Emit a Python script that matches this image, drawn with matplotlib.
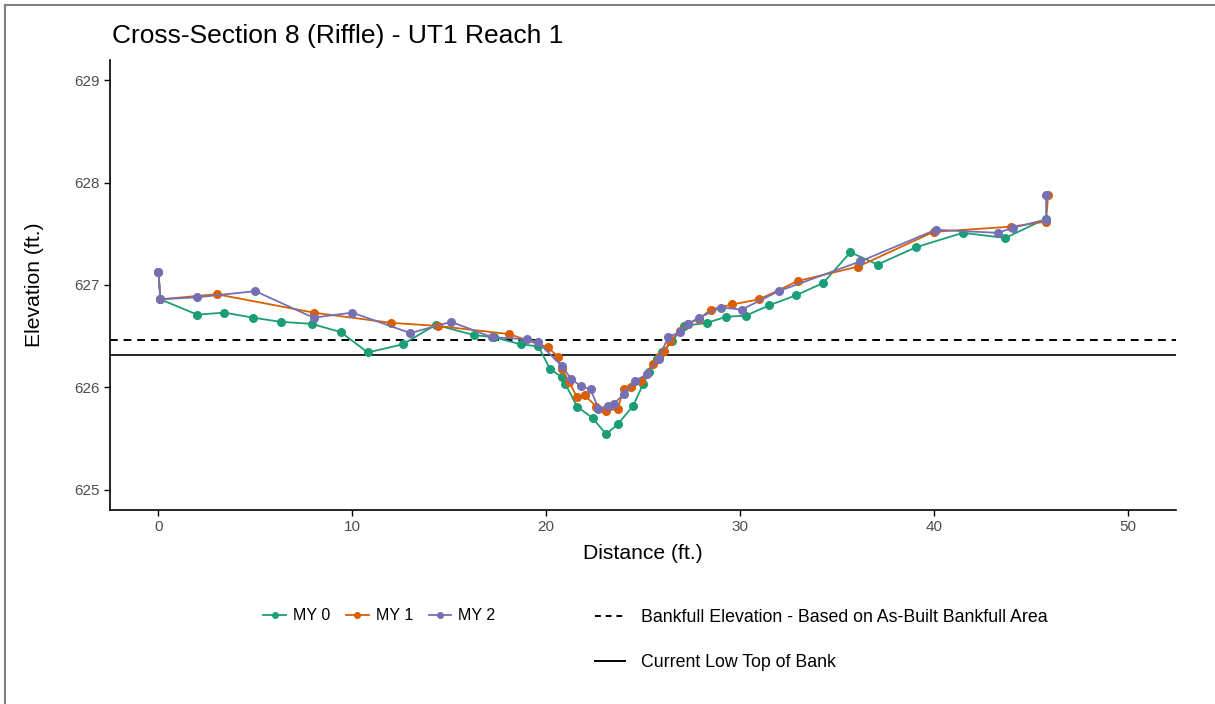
import matplotlib.pyplot as plt
from matplotlib.lines import Line2D

plt.rcParams['font.family'] = ['Liberation Sans', 'DejaVu Sans']

# survey data (distance ft, elevation ft)
my0_x = [0.0, 0.1, 2.0, 3.4, 4.9, 6.3, 7.9, 9.4, 10.8, 12.6, 14.3, 16.3, 17.3, 18.7, 19.6,
         20.2, 20.8, 21.0, 21.6, 22.4, 23.1, 23.7, 24.5, 25.0, 25.3, 25.7, 26.0, 26.5, 27.1,
         28.3, 29.3, 30.3, 31.5, 32.9, 34.3, 35.7, 37.1, 39.1, 41.5, 43.7, 45.8]
my0_y = [627.13, 626.86, 626.71, 626.73, 626.68, 626.64, 626.62, 626.54, 626.34, 626.42, 626.61,
         626.51, 626.49, 626.42, 626.40,
         626.18, 626.10, 626.03, 625.81, 625.70, 625.54, 625.64, 625.82, 626.03, 626.15, 626.28,
         626.34, 626.45, 626.60,
         626.63, 626.69, 626.70, 626.80, 626.90, 627.02, 627.32, 627.20, 627.37, 627.51, 627.46,
         627.65]

my1_x = [0.0, 0.1, 3.0, 8.0, 12.0, 14.4, 18.1, 20.1, 20.6, 20.8, 21.2, 21.6, 22.0, 22.6, 23.1,
         23.7, 24.0, 24.4, 24.9, 25.5, 25.8, 26.1, 26.4, 26.9, 27.3, 27.9,
         28.5, 29.6, 31.0, 33.0, 36.1, 40.0, 44.0, 45.8, 45.9]
my1_y = [627.13, 626.86, 626.91, 626.73, 626.63, 626.60, 626.52, 626.39, 626.30, 626.18, 626.05,
         625.90, 625.92, 625.81, 625.77,
         625.79, 625.98, 626.00, 626.06, 626.23, 626.30, 626.35, 626.45, 626.55, 626.62, 626.67,
         626.76, 626.81, 626.86, 627.04, 627.18, 627.52, 627.57, 627.62, 627.88]

my2_x = [0.0, 0.1, 2.0, 5.0, 8.0, 10.0, 13.0, 15.1, 17.2, 19.0, 19.6, 20.8, 21.3, 21.8, 22.3,
         22.7, 23.2, 23.5, 24.0, 24.6, 25.2, 25.8, 26.3, 26.9, 27.3, 27.9,
         29.0, 30.1, 32.0, 36.2, 40.1, 43.3, 44.1, 45.8, 45.8]
my2_y = [627.13, 626.86, 626.88, 626.94, 626.68, 626.73, 626.53, 626.64, 626.49, 626.47, 626.44,
         626.21, 626.08, 626.01, 625.98,
         625.79, 625.82, 625.84, 625.93, 626.06, 626.13, 626.28, 626.49, 626.54, 626.62, 626.68,
         626.78, 626.76, 626.94, 627.23, 627.54, 627.51, 627.56, 627.64, 627.88]

bankfull = 626.46
low_top_of_bank = 626.32

series = [("MY 0", my0_x, my0_y, "#1B9E77"),
          ("MY 1", my1_x, my1_y, "#D95F02"),
          ("MY 2", my2_x, my2_y, "#7570B3")]

fig = plt.figure(figsize=(12.15, 7.04), dpi=100)
ax = fig.add_axes([110 / 1215, 1 - 510 / 704, 1066 / 1215, 450 / 704])

for name, xs, ys, col in series:
    ax.plot(xs, ys, color=col, lw=1.3, marker='o', ms=5.5, mec=col, label=name, zorder=3)

ax.axhline(bankfull, color='black', lw=1.4, ls=(0, (4, 3)), zorder=2)
ax.axhline(low_top_of_bank, color='black', lw=1.2, zorder=2)

ax.set_xlim(-2.5, 52.5)
ax.set_ylim(624.8, 629.2)
ax.set_xticks([0, 10, 20, 30, 40, 50])
ax.set_yticks([625, 626, 627, 628, 629])
for s in ['top', 'right']:
    ax.spines[s].set_visible(False)
for s in ['left', 'bottom']:
    ax.spines[s].set_linewidth(1.2)
ax.tick_params(direction='out', length=4, width=1, labelsize=11, labelcolor='#4D4D4D')
ax.set_xlabel('Distance (ft.)', fontsize=15.2, labelpad=7)
ax.set_ylabel('Elevation (ft.)', fontsize=15.2, labelpad=22)
fig.text(112 / 1215, 1 - 36 / 704, 'Cross-Section 8 (Riffle) - UT1 Reach 1', fontsize=19,
         va='center', ha='left')

# legends under the plot
h1 = [Line2D([], [], color=c, lw=1.3, marker='o', ms=4) for _, _, _, c in series]
fig.legend(h1, [s[0] for s in series], loc='center left', ncol=3,
           bbox_to_anchor=(249 / 1215, 1 - 616 / 704), frameon=False, fontsize=11.5,
           handlelength=1.4, columnspacing=1.0, handletextpad=0.45)
h2 = [Line2D([], [], color='black', lw=1.4, ls=(0, (3, 2.5))),
      Line2D([], [], color='black', lw=1.4)]
fig.legend(h2, ['Bankfull Elevation - Based on As-Built Bankfull Area', 'Current Low Top of Bank'],
           loc='center left', bbox_to_anchor=(579 / 1215, 1 - 640 / 704), frameon=False,
           fontsize=12.8, handlelength=1.7, labelspacing=1.6, handletextpad=0.9)

# thin grey frame of the image
fig.add_artist(plt.Rectangle((5 / 1215, -0.1), 1.2, 1 - 5 / 704 + 0.1, transform=fig.transFigure,
                             fill=False, ec='#808080', lw=1.5))

fig.savefig('out.png', dpi=100)
